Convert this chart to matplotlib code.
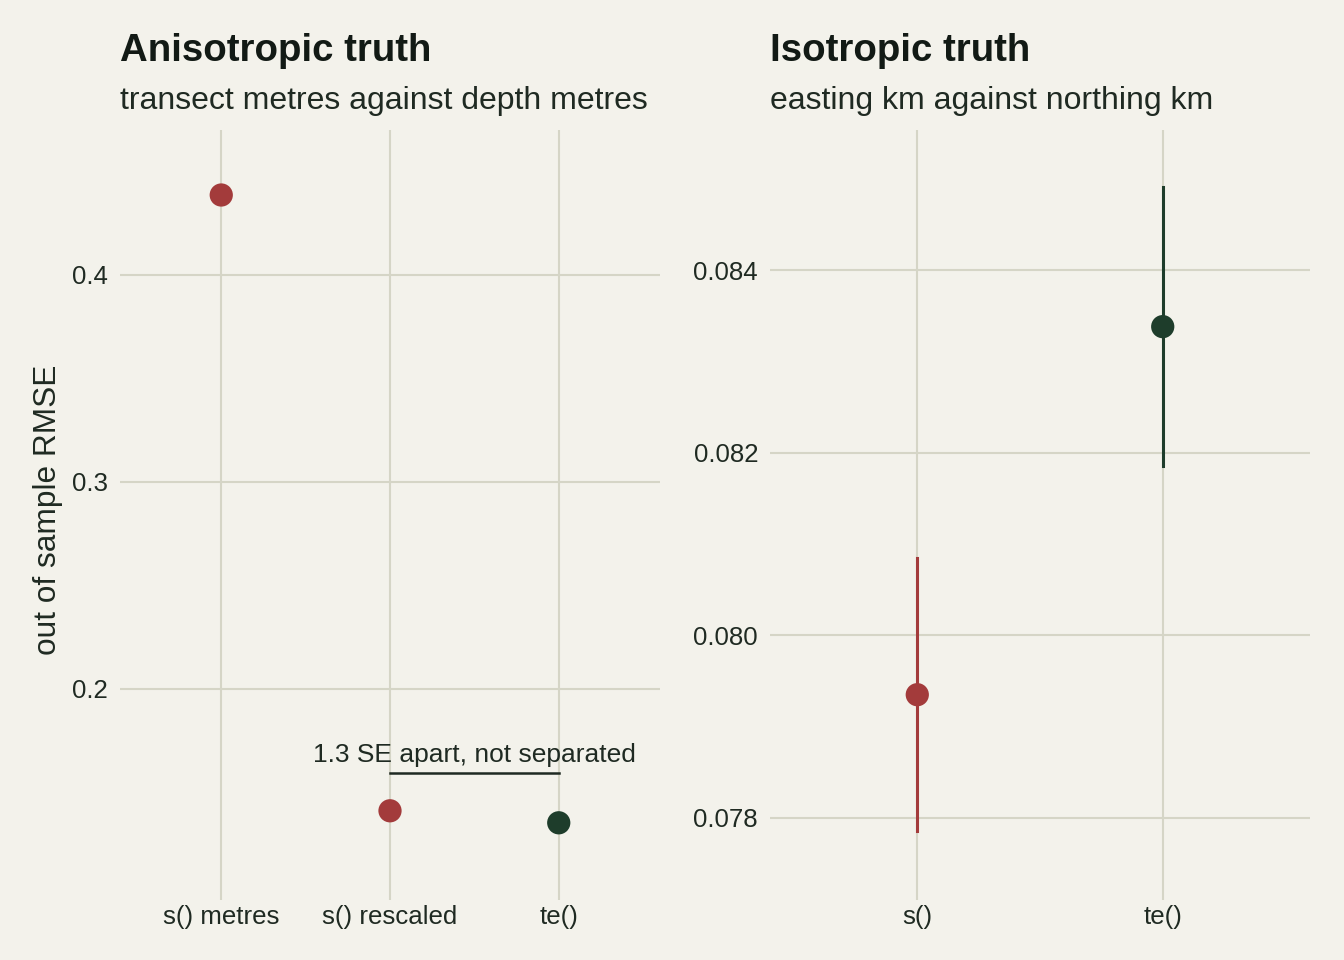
import numpy as np
import matplotlib.pyplot as plt

plt.rcParams['font.family'] = ['Liberation Sans', 'DejaVu Sans']

BG = '#F3F2EB'
GRID = '#D5D5C6'
RED = '#A33B3B'
GREEN = '#1E3D2B'
INK = '#1F2A22'

# left panel: anisotropic truth
aniso_labels = ['s() metres', 's() rescaled', 'te()']
aniso_rmse = [0.4386, 0.1411, 0.1353]
aniso_colors = [RED, RED, GREEN]
bracket_y = 0.1594
bracket_text = '1.3 SE apart, not separated'

# right panel: isotropic truth
iso_labels = ['s()', 'te()']
iso_rmse = [0.07935, 0.08338]
iso_lo = [0.07786, 0.08185]
iso_hi = [0.08085, 0.08491]
iso_colors = [RED, GREEN]

fig = plt.figure(figsize=(6.72, 4.8), dpi=200, facecolor=BG)
ax1 = fig.add_axes([120/1344, 60/960, 540/1344, 770/960])
ax2 = fig.add_axes([770/1344, 60/960, 540/1344, 770/960])

def style(ax):
    ax.set_facecolor(BG)
    for s in ax.spines.values():
        s.set_visible(False)
    ax.grid(True, color=GRID, linewidth=0.75)
    ax.set_axisbelow(True)
    ax.tick_params(length=0, labelsize=9.3, labelcolor=INK)
    ax.tick_params(axis='x', pad=1.8)
    ax.tick_params(axis='y', pad=4.3)

# left
style(ax1)
xs = np.arange(len(aniso_labels))
ax1.scatter(xs, aniso_rmse, s=70, c=aniso_colors, zorder=3, linewidths=0)
ax1.set_xticks(xs, aniso_labels)
ax1.set_yticks([0.2, 0.3, 0.4], ['0.2', '0.3', '0.4'])
ax1.set_xlim(-0.6, 2.6)
ax1.set_ylim(0.098, 0.470)
ax1.plot([1, 2], [bracket_y, bracket_y], color=INK, linewidth=0.9, zorder=3)
ax1.annotate(bracket_text, xy=(1.5, bracket_y), xytext=(0, 2), textcoords='offset points',
             ha='center', va='bottom', fontsize=9.5, color=INK)
ax1.set_ylabel('out of sample RMSE', fontsize=11.4, color=INK, labelpad=3.2)
ax1.yaxis.label.set_y(0.507)
ax1.text(0, 1.090, 'Anisotropic truth', transform=ax1.transAxes, fontsize=13.8,
         fontweight='bold', color='#121A15', ha='left', va='baseline')
ax1.text(0, 1.027, 'transect metres against depth metres', transform=ax1.transAxes,
         fontsize=11.5, color=INK, ha='left', va='baseline')

# right
style(ax2)
xs2 = np.arange(len(iso_labels))
for x, lo, hi, c in zip(xs2, iso_lo, iso_hi, iso_colors):
    ax2.plot([x, x], [lo, hi], color=c, linewidth=1.1, zorder=2)
ax2.scatter(xs2, iso_rmse, s=70, c=iso_colors, zorder=3, linewidths=0)
ax2.set_xticks(xs2, iso_labels)
ax2.set_yticks([0.078, 0.080, 0.082, 0.084], ['0.078', '0.080', '0.082', '0.084'])
ax2.set_xlim(-0.6, 1.6)
ax2.set_ylim(0.077102, 0.085533)
ax2.text(0, 1.090, 'Isotropic truth', transform=ax2.transAxes, fontsize=13.8,
         fontweight='bold', color='#121A15', ha='left', va='baseline')
ax2.text(0, 1.027, 'easting km against northing km', transform=ax2.transAxes,
         fontsize=11.5, color=INK, ha='left', va='baseline')

fig.savefig('out.png', dpi=200, facecolor=BG)
